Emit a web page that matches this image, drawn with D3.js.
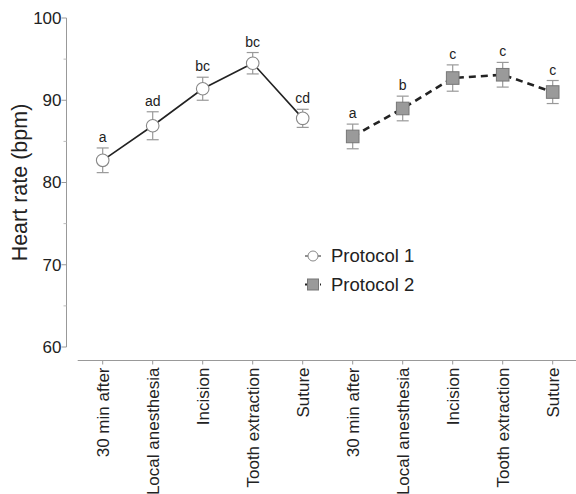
<!DOCTYPE html>
<html>
<head>
<meta charset="utf-8">
<script src="https://cdn.jsdelivr.net/npm/d3@7"></script>
<style>
  body { margin: 0; background: #fff; }
  text { font-family: Arial, "Liberation Sans", sans-serif; fill: #222; }
</style>
</head>
<body>
<script>
// values
const stages = ["30 min after", "Local anesthesia", "Incision", "Tooth extraction", "Suture"];
const p1Mean = [82.7, 86.9, 91.4, 94.5, 87.8];
const p1Err  = [1.5, 1.7, 1.4, 1.3, 1.1];
const p1Letters = ["a", "ad", "bc", "bc", "cd"];
const p2Mean = [85.6, 89.0, 92.7, 93.1, 91.0];
const p2Err  = [1.5, 1.5, 1.6, 1.5, 1.4];
const p2Letters = ["a", "b", "c", "c", "c"];
const yTicks = [60, 70, 80, 90, 100];

const width = 576, height = 494;

const svg = d3.select("body").append("svg")
    .attr("width", width)
    .attr("height", height);

// ten slots: protocol 1 stages then protocol 2 stages
const slots = d3.range(10);
const x = d3.scalePoint()
    .domain(slots)
    .range([77.7, 577.7])
    .padding(0.5);

const y = d3.scaleLinear()
    .domain([60, 100])
    .range([347, 18]);

// y axis
const yAxis = svg.append("g").attr("transform", "translate(66.5,0)");
yAxis.append("line")
    .attr("y1", y(100)).attr("y2", y(60))
    .attr("stroke", "#999");
yAxis.selectAll(".major").data(yTicks).join("line")
    .attr("x1", -5).attr("x2", 0)
    .attr("y1", d => y(d)).attr("y2", d => y(d))
    .attr("stroke", "#999");
yAxis.selectAll(".minor").data(d3.range(65, 100, 10)).join("line")
    .attr("x1", -3).attr("x2", 0)
    .attr("y1", d => y(d)).attr("y2", d => y(d))
    .attr("stroke", "#bbb");
yAxis.selectAll("text").data(yTicks).join("text")
    .attr("x", -5).attr("y", d => y(d))
    .attr("dy", "0.35em")
    .attr("text-anchor", "end")
    .style("font-size", "17px")
    .text(d => d);

svg.append("text")
    .attr("transform", `translate(19,${y(80)}) rotate(-90)`)
    .attr("text-anchor", "middle")
    .attr("dy", "0.35em")
    .style("font-size", "21.5px")
    .text("Heart rate (bpm)");

// x axis
const xAxis = svg.append("g").attr("transform", "translate(0,360.5)");
xAxis.append("line")
    .attr("x1", 77.7).attr("x2", width)
    .attr("stroke", "#999");
xAxis.selectAll("line.tick").data(slots).join("line")
    .attr("class", "tick")
    .attr("x1", d => x(d)).attr("x2", d => x(d))
    .attr("y1", 0).attr("y2", 4)
    .attr("stroke", "#999");
xAxis.selectAll("text").data(slots).join("text")
    .attr("transform", d => `translate(${x(d)},7) rotate(-90)`)
    .attr("text-anchor", "end")
    .attr("dy", "0.35em")
    .style("font-size", "17px")
    .text(d => stages[d % 5]);

function series(means, errs, letters, offset, dashed, shape) {
  const pts = means.map((m, i) => ({ i: i + offset, m, e: errs[i], l: letters[i] }));
  const g = svg.append("g");

  g.append("path")
      .datum(pts)
      .attr("fill", "none")
      .attr("stroke", "#222")
      .attr("stroke-width", dashed ? 2.6 : 1.6)
      .attr("stroke-dasharray", dashed ? "7,5" : null)
      .attr("d", d3.line().x(d => x(d.i)).y(d => y(d.m)));

  const eb = g.selectAll(".eb").data(pts).join("g").attr("stroke", "#999").attr("stroke-width", 1.2);
  eb.append("line")
      .attr("x1", d => x(d.i)).attr("x2", d => x(d.i))
      .attr("y1", d => y(d.m + d.e)).attr("y2", d => y(d.m - d.e));
  eb.append("line")
      .attr("x1", d => x(d.i) - 6).attr("x2", d => x(d.i) + 6)
      .attr("y1", d => y(d.m + d.e)).attr("y2", d => y(d.m + d.e));
  eb.append("line")
      .attr("x1", d => x(d.i) - 6).attr("x2", d => x(d.i) + 6)
      .attr("y1", d => y(d.m - d.e)).attr("y2", d => y(d.m - d.e));

  if (shape === "circle") {
    g.selectAll(".mk").data(pts).join("circle")
        .attr("cx", d => x(d.i)).attr("cy", d => y(d.m))
        .attr("r", 6.3)
        .attr("fill", "#fff").attr("stroke", "#888").attr("stroke-width", 1.1);
  } else {
    g.selectAll(".mk").data(pts).join("rect")
        .attr("x", d => x(d.i) - 6.3).attr("y", d => y(d.m) - 6.3)
        .attr("width", 12.6).attr("height", 12.6)
        .attr("fill", "#9a9a9a").attr("stroke", "#777").attr("stroke-width", 1);
  }

  g.selectAll(".lab").data(pts).join("text")
      .attr("x", d => x(d.i)).attr("y", d => y(d.m + d.e) - 6)
      .attr("text-anchor", "middle")
      .style("font-size", "14px")
      .text(d => d.l);
}

series(p1Mean, p1Err, p1Letters, 0, false, "circle");
series(p2Mean, p2Err, p2Letters, 5, true, "rect");

// legend
const legend = svg.append("g").attr("transform", "translate(313,256)");
const items = [
  { name: "Protocol 1", dashed: false, shape: "circle" },
  { name: "Protocol 2", dashed: true, shape: "rect" }
];
const li = legend.selectAll("g").data(items).join("g")
    .attr("transform", (d, i) => `translate(0,${i * 28.5})`);
li.append("line")
    .attr("x1", -8).attr("x2", 8)
    .attr("stroke", "#222").attr("stroke-width", d => d.dashed ? 2 : 1)
    .attr("stroke-dasharray", d => d.dashed ? "3,2" : null);
li.filter(d => d.shape === "circle").append("circle")
    .attr("r", 5).attr("fill", "#fff").attr("stroke", "#888");
li.filter(d => d.shape === "rect").append("rect")
    .attr("x", -5.5).attr("y", -5.5).attr("width", 11).attr("height", 11)
    .attr("fill", "#9a9a9a").attr("stroke", "#777");
li.append("text")
    .attr("x", 18).attr("dy", "0.35em")
    .style("font-size", "18.5px")
    .text(d => d.name);
</script>
</body>
</html>
